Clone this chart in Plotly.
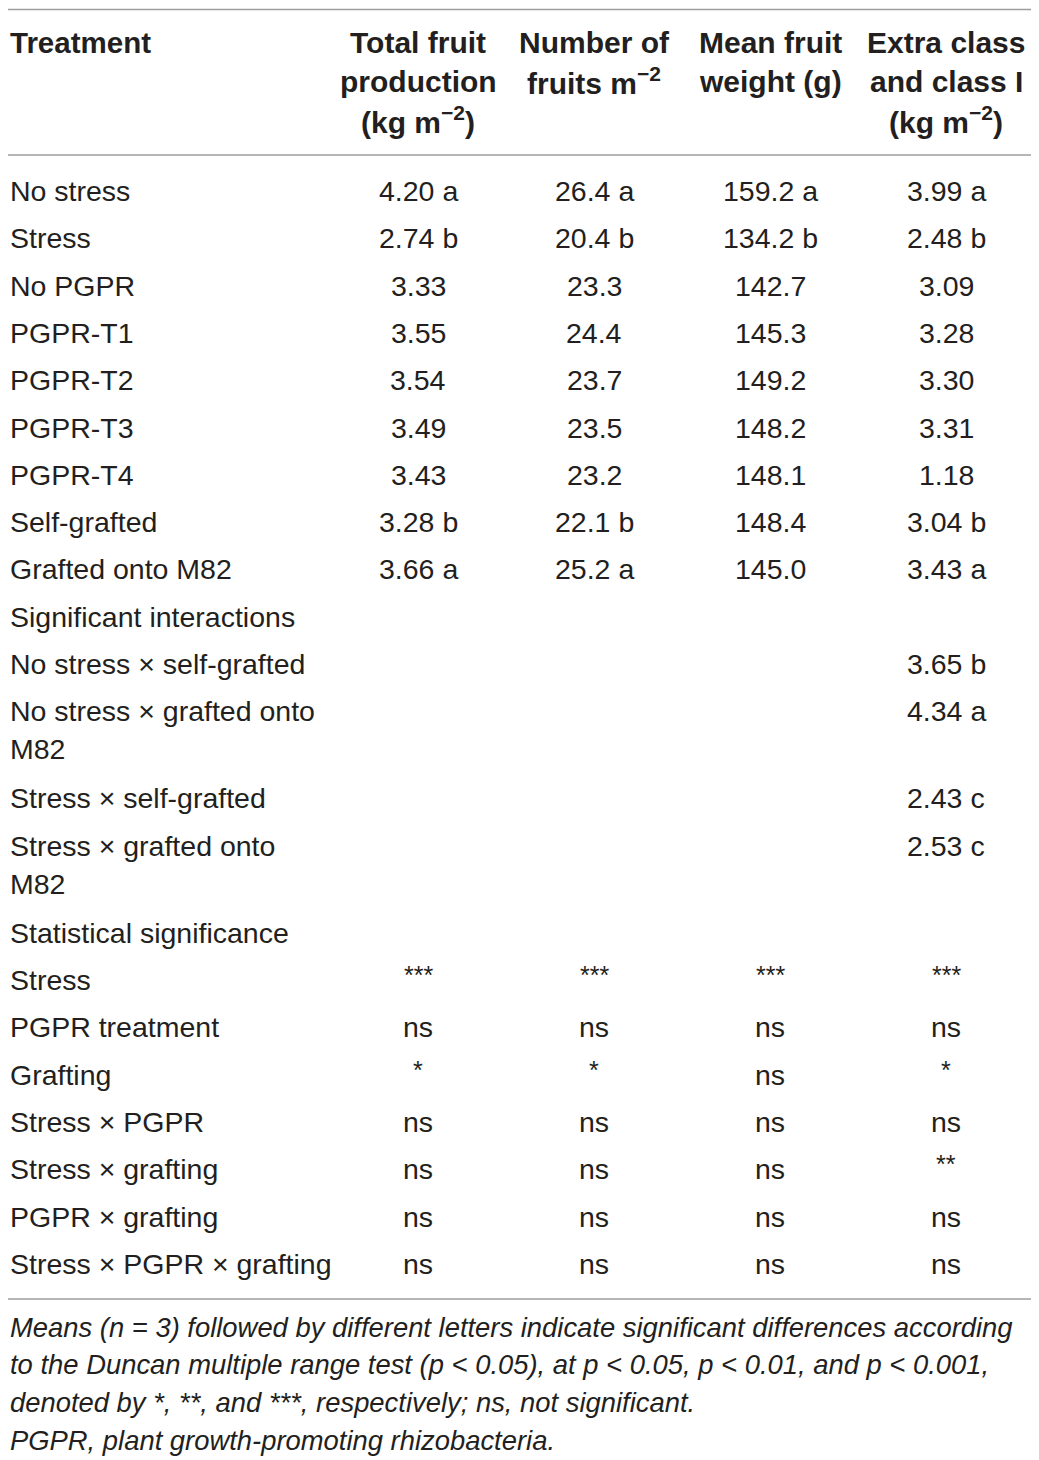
import plotly.graph_objects as go

# table content
headers = [
    ["Treatment"],
    ["Total fruit", "production", "(kg m<sup>−2</sup>)"],
    ["Number of", "fruits m<sup>−2</sup>"],
    ["Mean fruit", "weight (g)"],
    ["Extra class", "and class I", "(kg m<sup>−2</sup>)"],
]

treatment = [
    ["No stress"], ["Stress"], ["No PGPR"], ["PGPR-T1"], ["PGPR-T2"], ["PGPR-T3"],
    ["PGPR-T4"], ["Self-grafted"], ["Grafted onto M82"],
    ["Significant interactions"],
    ["No stress × self-grafted"],
    ["No stress × grafted onto", "M82"],
    ["Stress × self-grafted"],
    ["Stress × grafted onto", "M82"],
    ["Statistical significance"],
    ["Stress"], ["PGPR treatment"], ["Grafting"], ["Stress × PGPR"],
    ["Stress × grafting"], ["PGPR × grafting"], ["Stress × PGPR × grafting"],
]
total_fruit = ["4.20 a", "2.74 b", "3.33", "3.55", "3.54", "3.49", "3.43", "3.28 b", "3.66 a",
               "", "", "", "", "", "",
               "***", "ns", "*", "ns", "ns", "ns", "ns"]
n_fruits = ["26.4 a", "20.4 b", "23.3", "24.4", "23.7", "23.5", "23.2", "22.1 b", "25.2 a",
            "", "", "", "", "", "",
            "***", "ns", "*", "ns", "ns", "ns", "ns"]
mean_weight = ["159.2 a", "134.2 b", "142.7", "145.3", "149.2", "148.2", "148.1", "148.4", "145.0",
               "", "", "", "", "", "",
               "***", "ns", "ns", "ns", "ns", "ns", "ns"]
extra_class = ["3.99 a", "2.48 b", "3.09", "3.28", "3.30", "3.31", "1.18", "3.04 b", "3.43 a",
               "", "3.65 b", "4.34 a", "2.43 c", "2.53 c", "",
               "***", "ns", "*", "ns", "**", "ns", "ns"]

footnote = [
    "Means (n = 3) followed by different letters indicate significant differences according",
    "to the Duncan multiple range test (p &lt; 0.05), at p &lt; 0.05, p &lt; 0.01, and p &lt; 0.001,",
    "denoted by *, **, and ***, respectively; ns, not significant.",
    "PGPR, plant growth-promoting rhizobacteria.",
]

W, H = 1039, 1460
OFF = 8  # page body margin
TXT = "#231f20"
RULE = "#9d9d9d"
FONT = "Liberation Sans"
LEFT = 8
col_x = [418, 594, 770, 946]
row0, row_pitch, extra_pitch, line_gap = 191, 47.3, 39.8, 38

fig = go.Figure()


def put(x, y, s, size=28.5, anchor="center", bold=False, italic=False, yshift=0):
    if bold:
        s = "<b>" + s + "</b>"
    fig.add_annotation(x=x, y=y, xref="x", yref="y", text=s, showarrow=False,
                       xanchor=anchor, yanchor="middle", yshift=yshift,
                       font=dict(family=FONT, size=size, color=TXT,
                                 style="italic" if italic else "normal"))


# header
for j, lines in enumerate(headers):
    for k, ln in enumerate(lines):
        if j == 0:
            put(LEFT, 42 + 39 * k, ln, size=29.5, anchor="left", bold=True)
        else:
            put(col_x[j - 1], 42 + 39 * k, ln, size=30, bold=True)

# body
columns = [total_fruit, n_fruits, mean_weight, extra_class]
y = row0
for i, lines in enumerate(treatment):
    for k, ln in enumerate(lines):
        put(LEFT, y + line_gap * k, ln, anchor="left")
    for j, col in enumerate(columns):
        v = col[i]
        if not v:
            continue
        if set(v) == {"*"}:
            put(col_x[j], y, v, size=25, yshift=5)
        else:
            put(col_x[j], y, v)
    y += row_pitch + extra_pitch * (len(lines) - 1)

# footnote
for k, ln in enumerate(footnote):
    put(LEFT, 1327 + 37.7 * k, ln, size=27.4, anchor="left", italic=True)

# rules (top one nudged inside the page margin so it stays visible)
for yy in [OFF + 1.5, 155, 1299]:
    fig.add_shape(type="line", x0=LEFT, x1=1033, y0=yy, y1=yy, xref="x", yref="y",
                  line=dict(color=RULE, width=1.6))

fig.update_xaxes(range=[OFF, W], visible=False, fixedrange=True)
fig.update_yaxes(range=[H, OFF], visible=False, fixedrange=True)
fig.update_layout(width=W - OFF, height=H - OFF, margin=dict(l=0, r=0, t=0, b=0),
                  paper_bgcolor="white", plot_bgcolor="white", showlegend=False)

fig.write_html("out.html")
